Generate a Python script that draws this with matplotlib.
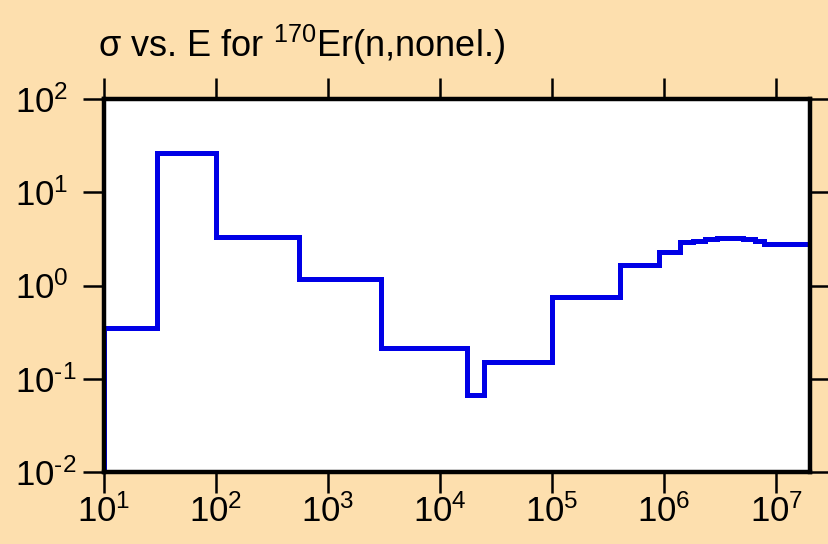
import matplotlib
matplotlib.use("Agg")
import matplotlib.pyplot as plt
import numpy as np

# Energy bin edges (eV) and cross sections (b)
edges = [10, 30, 100, 545, 2950, 17200, 24800, 1.0e5, 4.0e5, 9.0e5,
         1.37e6, 1.79e6, 2.3e6, 2.95e6, 5.0e6, 6.4e6, 7.8e6, 2.0e7]
sigma = [0.35, 26.5, 3.3, 1.17, 0.214, 0.067, 0.151, 0.753, 1.66, 2.30,
         2.90, 3.02, 3.13, 3.21, 3.13, 2.98, 2.77]
xlim = (10, 2.0e7)
ylim = (1e-2, 1e2)
xticks = [1e1, 1e2, 1e3, 1e4, 1e5, 1e6, 1e7]
xticklabels = [r"$10^{1}$", r"$10^{2}$", r"$10^{3}$", r"$10^{4}$", r"$10^{5}$", r"$10^{6}$", r"$10^{7}$"]
yticks = [1e-2, 1e-1, 1e0, 1e1, 1e2]
yticklabels = ["$10^{\u2010 2}$", "$10^{\u2010 1}$", r"$10^{0}$", r"$10^{1}$", r"$10^{2}$"]

plt.rcParams['font.family'] = ['Liberation Sans', 'DejaVu Sans']
plt.rcParams['mathtext.fontset'] = 'custom'
plt.rcParams['mathtext.rm'] = 'Liberation Sans'
plt.rcParams['mathtext.it'] = 'Liberation Sans'
plt.rcParams['mathtext.default'] = 'regular'
plt.rcParams['axes.unicode_minus'] = False

bg = '#FDDFAE'
fig = plt.figure(figsize=(8.29, 5.44), dpi=100, facecolor=bg)
ax = fig.add_axes([104/829, 1-472/544, (810-104)/829, (472-99)/544])
ax.set_facecolor('white')

ax.stairs(sigma, edges, baseline=ylim[0], color='#0000E6', linewidth=3.6)

ax.set_xscale('log')
ax.set_yscale('log')
ax.set_xlim(*xlim)
ax.set_ylim(*ylim)
ax.set_xticks(xticks)
ax.set_xticklabels(xticklabels)
ax.set_yticks(yticks)
ax.set_yticklabels(yticklabels)
ax.minorticks_off()
ax.tick_params(axis='both', which='major', direction='out', length=15, width=1.8,
               labelsize=25, top=True, right=True, color='black')
ax.tick_params(axis='x', pad=1)
ax.tick_params(axis='y', pad=49)
for lbl in ax.get_yticklabels():
    lbl.set_horizontalalignment('left')
for s in ax.spines.values():
    s.set_linewidth(3.2)
    s.set_color('black')

fig.text(98/829, 1-57/544, r"σ vs. E for $^{170}$Er(n,nonel.)", fontsize=26,
         ha='left', va='baseline')

fig.savefig('out.png', dpi=100, facecolor=bg)
